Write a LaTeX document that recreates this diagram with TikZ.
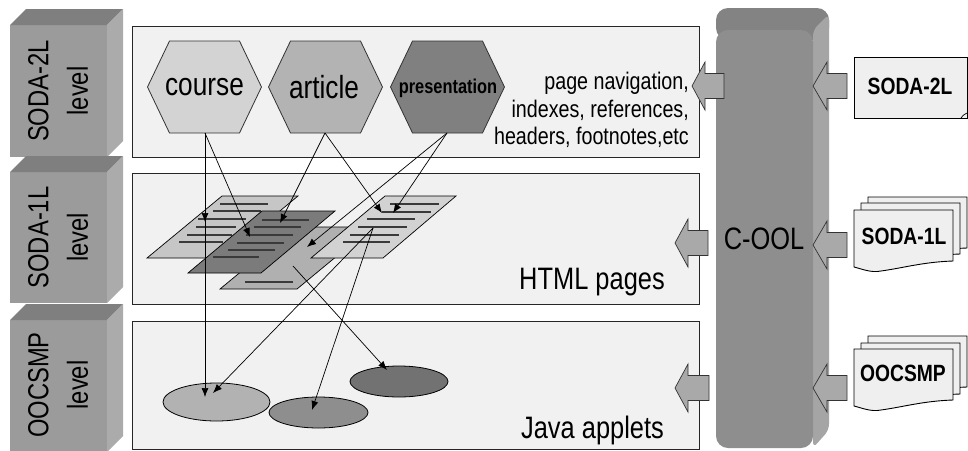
\documentclass[tikz,border=0pt]{standalone}
\usepackage{fontspec}
\setmainfont{Liberation Sans}[FakeStretch=0.82]
\usetikzlibrary{arrows.meta,shapes.geometric}
\definecolor{blkfront}{HTML}{9B9B9B}
\definecolor{blktop}{HTML}{7F7F7F}
\definecolor{blkside}{HTML}{ABABAB}
\definecolor{panelfill}{HTML}{F1F1F1}
\definecolor{hexA}{HTML}{D3D3D3}
\definecolor{hexB}{HTML}{B3B3B3}
\definecolor{hexC}{HTML}{808080}
\definecolor{pgA}{HTML}{C6C6C6}
\definecolor{pgB}{HTML}{7B7B7B}
\definecolor{pgC}{HTML}{B0B0B0}
\definecolor{pgD}{HTML}{D2D2D2}
\definecolor{plinec}{HTML}{3A3A3A}
\definecolor{elA}{HTML}{B2B2B2}
\definecolor{elB}{HTML}{8E8E8E}
\definecolor{elC}{HTML}{727272}
\definecolor{coolfront}{HTML}{8E8E8E}
\definecolor{cooltop}{HTML}{838383}
\definecolor{coolside}{HTML}{A5A5A5}
\definecolor{barfill}{HTML}{A9A9A9}
\definecolor{docfill}{HTML}{EFEFEF}
\newcommand\levelblock[2]{%
  \fill[blkfront] (10,#1) rectangle (107,#2);
  \fill[blktop] (10,#1) -- (26,#1-16) -- (123,#1-16) -- (107,#1) -- cycle;
  \fill[blkside] (107,#1) -- (123,#1-16) -- (123,#2-16) -- (107,#2) -- cycle;}
\newcommand\hexa[2]{%
  \filldraw[hexs,fill=#2] (#1-57,87) -- (#1-35,41) -- (#1+35,41) -- (#1+57,87) -- (#1+35,133) -- (#1-35,133) -- cycle;}
\newcommand\blockarr[4]{%
  \filldraw[barrow] (#1,#2) -- (#3,#2-24) -- (#3,#2-12.5) -- (#4,#2-12.5) -- (#4,#2+12.5) -- (#3,#2+12.5) -- (#3,#2+24) -- cycle;}
\newcommand\wavydoc[2]{%
  \filldraw[docst] (#1,#2) -- ++(99,0) -- ++(0,51) .. controls +(-30,1) and +(22,-3) .. ++(-72,10) .. controls +(-10,2) and +(8,2) .. ++(-27,-4) -- cycle;}
\begin{document}
\begin{tikzpicture}[x=1pt,y=-1pt,
 panel/.style={fill=panelfill,draw=black!85,line width=1pt},
 hexs/.style={draw=black!80,line width=0.8pt},
 hexlabel/.style={font=\fontsize{32}{36}\selectfont,inner sep=0pt},
 lvl/.style={rotate=90,font=\fontsize{29}{34}\selectfont,inner sep=0pt},
 page/.style={draw=black,line width=0.7pt},
 pline/.style={draw=plinec,line width=1.6pt},
 ell/.style={ellipse,draw=black,line width=0.8pt,inner sep=0pt},
 conn/.style={draw=black,line width=0.7pt,-{Latex[length=9pt,width=7pt]}},
 barrow/.style={fill=barfill,draw=black!80,line width=0.7pt},
 docst/.style={fill=docfill,draw=black,line width=0.9pt},
 doclabel/.style={font=\bfseries\fontsize{23.5}{26}\selectfont,inner sep=0pt},
 big/.style={font=\fontsize{31}{36}\selectfont,inner sep=0pt},
]
\useasboundingbox (0,0) rectangle (968,450);
\fill[white] (0,0) rectangle (968,450);
% level blocks
\levelblock{25}{157}
\levelblock{172}{303}
\levelblock{320}{452}
\node[lvl] (l1a) at (38.5,91) {SODA-2L};
\node[lvl] (l1b) at (77.5,91) {level};
\node[lvl] (l2a) at (38.5,237.5) {SODA-1L};
\node[lvl] (l2b) at (77.5,237.5) {level};
\node[lvl] (l3a) at (38.5,385) {OOCSMP};
\node[lvl] (l3b) at (77.5,385) {level};
% panels
\path[panel] (132,26) rectangle (699,157);
\path[panel] (132,173) rectangle (699,304);
\path[panel] (132,321) rectangle (699,449);
% C-OOL column
\fill[cooltop, rounded corners=12] (716,40) -- (716,8) -- (829,8) -- (829,40) -- cycle;
\fill[coolside, rounded corners=6] (813,30) -- (829,14) -- (829,430) -- (813,448) -- cycle;
\fill[coolfront, rounded corners=12] (716,448) -- (716,30) -- (813,30) -- (813,448) -- cycle;
\node[big] (cool) at (764,239) {C-OOL};
% block arrows
\blockarr{813}{86}{827}{847}
\blockarr{692}{86}{705}{724}
\blockarr{813}{245}{827}{847}
\blockarr{675}{243}{688}{708}
\blockarr{813}{388}{827}{847}
\blockarr{675}{388}{688}{709}
% documents
\filldraw[docst] (854,57) rectangle (967,118);
\draw[line width=0.7pt] (961,118) .. controls (963,115) and (965,114) .. (967,113);
\node[doclabel] (soda2) at (910,86) {SODA-2L};
\wavydoc{868}{197}
\wavydoc{861}{203}
\wavydoc{854}{210}
\node[doclabel] (soda1) at (904,236) {SODA-1L};
\wavydoc{868}{336}
\wavydoc{861}{343}
\wavydoc{854}{349}
\node[doclabel] (oocsmp) at (903,373) {OOCSMP};
% hexagons
\hexa{204.5}{hexA}
\hexa{325.5}{hexB}
\hexa{447.5}{hexC}
\node[hexlabel] (course) at (204.5,87) {course};
\node[hexlabel] (article) at (324,87) {article};
\node[font=\bfseries\fontsize{20}{24}\selectfont,inner sep=0pt] (presentation) at (448,88) {presentation};
\node[align=right,anchor=east,font=\fontsize{24}{27.5}\selectfont,inner sep=0pt] (nav) at (689,110)
  {page navigation,\\indexes, references,\\headers, footnotes,etc};
% HTML pages
\filldraw[page,fill=pgA] (222,196) -- (298,196) -- (223,258) -- (147,258) -- cycle;
\draw[pline] (220,204) -- ++(48,0);
\draw[pline] (213,211) -- ++(48,0);
\draw[pline] (198,219) -- ++(48,0);
\draw[pline] (196,227) -- ++(40,0);
\draw[pline] (187,235) -- ++(45,0);
\draw[pline] (179,242) -- ++(44,0);
\filldraw[page,fill=pgC] (295,227) -- (372,227) -- (297,289) -- (220,289) -- cycle;
\draw[pline] (245,282) -- ++(48,0);
\filldraw[page,fill=pgB] (262,211) -- (335,211) -- (261,273) -- (188,273) -- cycle;
\draw[pline] (262,220) -- ++(47,0);
\draw[pline] (254,227) -- ++(47,0);
\draw[pline] (246,235) -- ++(47,0);
\draw[pline] (237,243) -- ++(47,0);
\draw[pline] (228,250) -- ++(47,0);
\draw[pline] (213,257) -- ++(46,0);
\filldraw[page,fill=pgD] (385,196) -- (456,196) -- (383,258) -- (311,258) -- cycle;
\draw[pline] (390,204) -- ++(49,0);
\draw[pline] (382,212) -- ++(49,0);
\draw[pline] (367,219) -- ++(48,0);
\draw[pline] (358,227) -- ++(49,0);
\draw[pline] (350,235) -- ++(49,0);
\draw[pline] (343,242) -- ++(47,0);
\node[big] (html) at (592,282) {HTML pages};
% applets
\node[ell,fill=elA,minimum width=107,minimum height=38] (e1) at (216.5,402) {};
\node[ell,fill=elB,minimum width=99,minimum height=31] (e2) at (318.5,412.5) {};
\node[ell,fill=elC,minimum width=98,minimum height=31] (e3) at (399,381.5) {};
\node[big] (java) at (592.5,430) {Java applets};
% connector points
\coordinate (course-b) at (205,133);
\coordinate (article-b) at (325,133);
\coordinate (pres-b) at (447,133);
\coordinate (pA-in) at (205,222);
\coordinate (pB-in1) at (250,237);
\coordinate (pB-in2) at (280,223);
\coordinate (pC-in) at (307,247);
\coordinate (pD-in1) at (382,213);
\coordinate (pD-in2) at (393,213);
\coordinate (pD-out) at (373,228);
\coordinate (pC-out) at (293,266);
\coordinate (e1-in1) at (205,397);
\coordinate (e1-in2) at (213,393);
\coordinate (e2-in) at (312,410);
\coordinate (e3-in) at (387,370);
% connectors
\draw[conn] (course-b) -- (pA-in);
\draw[conn] (course-b) -- (e1-in1);
\draw[conn] (course-b) -- (pB-in1);
\draw[conn] (article-b) -- (pB-in2);
\draw[conn] (article-b) -- (pD-in1);
\draw[conn] (pres-b) -- (pC-in);
\draw[conn] (pres-b) -- (pD-in2);
\draw[conn] (pD-out) -- (e1-in2);
\draw[conn] (pD-out) -- (e2-in);
\draw[conn] (pC-out) -- (e3-in);
\end{tikzpicture}
\end{document}
